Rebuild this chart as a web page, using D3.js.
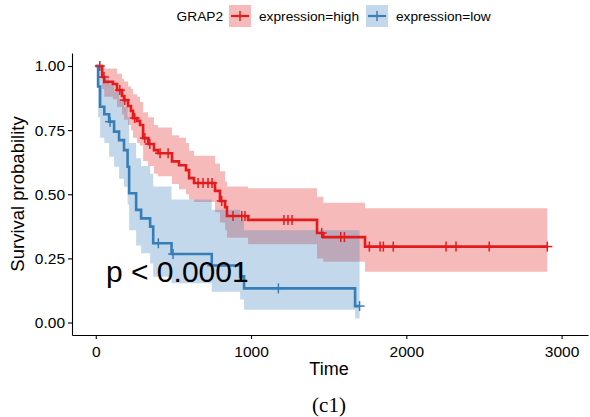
<!DOCTYPE html>
<html>
<head>
<meta charset="utf-8">
<script src="https://cdn.jsdelivr.net/npm/d3@7"></script>
<style>
  body { margin: 0; background: #fff; }
  text { font-family: "Liberation Sans", Arial, sans-serif; fill: #000; }
</style>
</head>
<body>
<div id="chart"></div>
<script>
var svgWidth = 590;
var svgHeight = 417;

// KM steps: time, survival, lower CI, upper CI
var highTime  = [0, 41, 55, 111, 137, 169, 182, 208, 227, 240, 266, 285, 305, 337, 375, 401, 491, 536, 581, 601, 633, 768, 800, 833, 845, 981, 1425, 1465, 1734, 2908];
var highSurv  = [1, 0.957, 0.938, 0.93, 0.906, 0.883, 0.867, 0.844, 0.825, 0.797, 0.786, 0.77, 0.719, 0.696, 0.672, 0.66, 0.628, 0.613, 0.594, 0.563, 0.544, 0.513, 0.474, 0.45, 0.415, 0.40, 0.349, 0.333, 0.296, 0.296];
var highLower = [1, 0.91, 0.88, 0.87, 0.84, 0.81, 0.79, 0.77, 0.75, 0.72, 0.70, 0.69, 0.63, 0.61, 0.58, 0.57, 0.54, 0.52, 0.50, 0.48, 0.47, 0.43, 0.39, 0.36, 0.33, 0.305, 0.25, 0.237, 0.198, 0.198];
var highUpper = [1, 1.0, 0.99, 0.99, 0.97, 0.95, 0.94, 0.92, 0.91, 0.89, 0.88, 0.86, 0.82, 0.80, 0.77, 0.76, 0.73, 0.72, 0.70, 0.67, 0.65, 0.62, 0.59, 0.55, 0.53, 0.523, 0.49, 0.467, 0.445, 0.445];
var highCensor = [26, 53, 155, 187, 251, 316, 348, 414, 466, 659, 691, 723, 749, 811, 884, 940, 961, 1212, 1238, 1264, 1455, 1578, 1601, 1762, 1831, 1852, 1916, 2256, 2320, 2534, 2908];

var lowTime  = [0, 15, 28, 55, 86, 118, 150, 182, 205, 215, 260, 292, 350, 370, 488, 747, 930, 955, 1670, 1699];
var lowSurv  = [1, 0.92, 0.841, 0.812, 0.783, 0.744, 0.711, 0.672, 0.607, 0.504, 0.439, 0.406, 0.374, 0.309, 0.267, 0.222, 0.18, 0.133, 0.064, 0.064];
var lowLower = [1, 0.80, 0.72, 0.70, 0.646, 0.607, 0.56, 0.529, 0.46, 0.36, 0.30, 0.27, 0.23, 0.178, 0.153, 0.12, 0.09, 0.05, 0.016, 0.016];
var lowUpper = [1, 1.0, 0.98, 0.95, 0.93, 0.90, 0.87, 0.84, 0.80, 0.70, 0.64, 0.61, 0.58, 0.53, 0.48, 0.44, 0.40, 0.36, 0.36, 0.36];
var lowCensor = [92, 403, 498, 750, 1176, 1699];

var xTicks = [0, 1000, 2000, 3000];
var yTicks = [0, 0.25, 0.5, 0.75, 1];
var groupNames = ["expression=high", "expression=low"];
var colors = ["#E41A1C", "#377EB8"];

function rows(t, s, lo, hi) {
    return t.map((d, i) => ({t: d, s: s[i], lo: lo[i], hi: hi[i]}));
}
var groups = [
    {name: groupNames[0], color: colors[0], data: rows(highTime, highSurv, highLower, highUpper), censor: highCensor},
    {name: groupNames[1], color: colors[1], data: rows(lowTime, lowSurv, lowLower, lowUpper), censor: lowCensor}
];
function survAt(data, t) {
    var v = data[0].s;
    data.forEach(d => { if (d.t <= t) v = d.s; });
    return v;
}

var svg = d3.select("#chart")
    .append("svg")
    .attr("width", svgWidth)
    .attr("height", svgHeight);

var xScale = d3.scaleLinear().domain([-153, 3170]).range([72, 588]);
var yScale = d3.scaleLinear().domain([-0.0487, 1.0507]).range([335, 53]);

// bands
var area = d3.area()
    .curve(d3.curveStepAfter)
    .x(d => xScale(d.t))
    .y0(d => yScale(d.lo))
    .y1(d => yScale(d.hi));
svg.selectAll(".band")
    .data(groups)
    .join("path")
    .attr("class", "band")
    .attr("d", g => area(g.data))
    .attr("fill", g => g.color)
    .attr("fill-opacity", 0.3);

// curves
var line = d3.line()
    .curve(d3.curveStepAfter)
    .x(d => xScale(d.t))
    .y(d => yScale(d.s));
svg.selectAll(".curve")
    .data(groups)
    .join("path")
    .attr("class", "curve")
    .attr("d", g => line(g.data))
    .attr("fill", "none")
    .attr("stroke", g => g.color)
    .attr("stroke-width", 2.6);

// censor marks
groups.forEach(g => {
    var marks = svg.append("g").attr("stroke", g.color).attr("stroke-width", 1.5);
    g.censor.forEach(t => {
        var cx = xScale(t), cy = yScale(survAt(g.data, t));
        marks.append("line").attr("x1", cx - 5).attr("x2", cx + 5).attr("y1", cy).attr("y2", cy);
        marks.append("line").attr("x1", cx).attr("x2", cx).attr("y1", cy - 5).attr("y2", cy + 5);
    });
});

// axes
var xAxis = svg.append("g")
    .attr("transform", "translate(0,335)")
    .call(d3.axisBottom(xScale).tickValues(xTicks).tickFormat(d3.format("d")).tickSize(4).tickPadding(7).tickSizeOuter(0));
var yAxis = svg.append("g")
    .attr("transform", "translate(72,0)")
    .call(d3.axisLeft(yScale).tickValues(yTicks).tickFormat(d3.format(".2f")).tickSize(4).tickPadding(3).tickSizeOuter(0));
[xAxis, yAxis].forEach(a => {
    a.selectAll("path, line").attr("stroke", "#000").attr("stroke-width", 1.1);
    a.selectAll("text").style("font-size", "15.5px").attr("fill", "#000");
});

svg.append("text")
    .attr("transform", "rotate(-90)")
    .attr("x", -194)
    .attr("y", 24)
    .style("text-anchor", "middle")
    .style("font-size", "18.5px")
    .text("Survival probability");
svg.append("text")
    .attr("x", 329)
    .attr("y", 375)
    .style("text-anchor", "middle")
    .style("font-size", "18px")
    .text("Time");
svg.append("text")
    .attr("x", 329)
    .attr("y", 412)
    .style("text-anchor", "middle")
    .style("font-family", "'Liberation Serif', 'Times New Roman', serif")
    .style("font-size", "21px")
    .text("(c1)");

// p value
svg.append("text")
    .attr("x", 106)
    .attr("y", 282)
    .style("font-size", "30px")
    .text("p < 0.0001");

// legend
svg.append("text")
    .attr("x", 223)
    .attr("y", 21)
    .style("text-anchor", "end")
    .style("font-size", "13.7px")
    .text("GRAP2");
var keyX = [229, 366];
var labelX = [259, 396];
groups.forEach((g, i) => {
    svg.append("rect")
        .attr("x", keyX[i]).attr("y", 5)
        .attr("width", 22).attr("height", 22)
        .attr("fill", g.color).attr("fill-opacity", 0.3);
    svg.append("line")
        .attr("x1", keyX[i] + 2).attr("x2", keyX[i] + 20).attr("y1", 16).attr("y2", 16)
        .attr("stroke", g.color).attr("stroke-width", 2.2);
    svg.append("line")
        .attr("x1", keyX[i] + 11).attr("x2", keyX[i] + 11).attr("y1", 11).attr("y2", 21)
        .attr("stroke", g.color).attr("stroke-width", 1.5);
    svg.append("text")
        .attr("x", labelX[i]).attr("y", 21)
        .style("font-size", "13.7px")
        .text(g.name);
});
</script>
</body>
</html>
